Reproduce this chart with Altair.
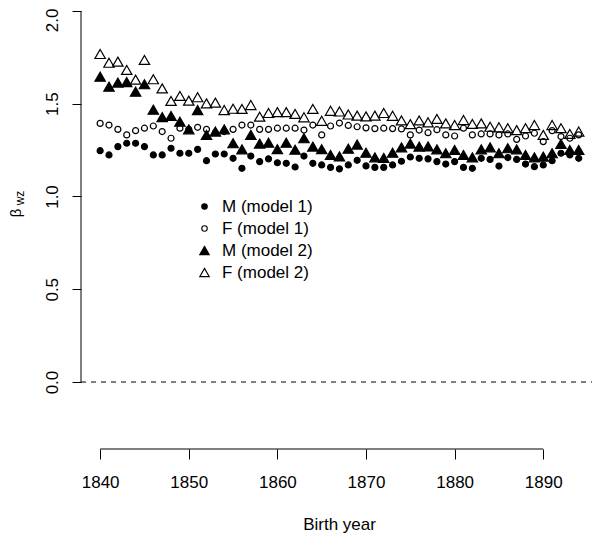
import altair as alt
import pandas as pd

years = list(range(1840, 1895))

m_model1 = [1.247, 1.224, 1.269, 1.287, 1.287, 1.269, 1.224, 1.224, 1.260, 1.233,
            1.233, 1.254, 1.193, 1.229, 1.229, 1.206, 1.152, 1.218, 1.188, 1.203,
            1.182, 1.179, 1.159, 1.218, 1.179, 1.170, 1.157, 1.149, 1.170, 1.195,
            1.165, 1.157, 1.157, 1.170, 1.190, 1.213, 1.206, 1.203, 1.188, 1.175,
            1.188, 1.157, 1.152, 1.206, 1.200, 1.164, 1.210, 1.200, 1.175, 1.161,
            1.170, 1.193, 1.233, 1.224, 1.206]

f_model1 = [1.394, 1.385, 1.362, 1.332, 1.355, 1.368, 1.380, 1.350, 1.314, 1.368,
            1.362, 1.373, 1.362, 1.345, 1.350, 1.362, 1.385, 1.385, 1.362, 1.362,
            1.368, 1.368, 1.368, 1.358, 1.385, 1.332, 1.380, 1.396, 1.383, 1.376,
            1.370, 1.366, 1.368, 1.366, 1.364, 1.332, 1.358, 1.344, 1.360, 1.332,
            1.326, 1.368, 1.332, 1.337, 1.337, 1.332, 1.337, 1.308, 1.326, 1.341,
            1.296, 1.355, 1.323, 1.314, 1.332]

m_model2 = [1.646, 1.592, 1.614, 1.617, 1.565, 1.605, 1.468, 1.428, 1.434, 1.403,
            1.362, 1.466, 1.332, 1.350, 1.362, 1.287, 1.254, 1.332, 1.285, 1.290,
            1.255, 1.290, 1.252, 1.314, 1.269, 1.255, 1.224, 1.216, 1.258, 1.280,
            1.236, 1.211, 1.208, 1.236, 1.265, 1.285, 1.269, 1.270, 1.254, 1.233,
            1.251, 1.224, 1.211, 1.254, 1.265, 1.233, 1.260, 1.254, 1.224, 1.211,
            1.215, 1.233, 1.283, 1.251, 1.251]

f_model2 = [1.768, 1.721, 1.727, 1.682, 1.630, 1.736, 1.632, 1.583, 1.515, 1.542,
            1.517, 1.535, 1.502, 1.506, 1.466, 1.473, 1.472, 1.493, 1.430, 1.450,
            1.455, 1.455, 1.445, 1.427, 1.472, 1.408, 1.462, 1.458, 1.442, 1.436,
            1.432, 1.436, 1.450, 1.435, 1.410, 1.390, 1.410, 1.400, 1.418, 1.394,
            1.385, 1.412, 1.391, 1.394, 1.376, 1.373, 1.368, 1.358, 1.368, 1.385,
            1.332, 1.385, 1.368, 1.337, 1.350]

series_names = ["M (model 1)", "F (model 1)", "M (model 2)", "F (model 2)"]
series_values = [m_model1, f_model1, m_model2, f_model2]

x_ticks = [1840, 1850, 1860, 1870, 1880, 1890]
y_ticks = [0.0, 0.5, 1.0, 1.5, 2.0]

rows = []
for name, vals in zip(series_names, series_values):
    for yr, v in zip(years, vals):
        rows.append({"year": yr, "value": v, "series": name})
df = pd.DataFrame(rows)

W, H = 511, 441
FONT = "Liberation Sans"
xscale = alt.Scale(domain=[1837.84, 1895.5], zero=False, nice=False)
yscale = alt.Scale(domain=[-0.361, 2.016], zero=False, nice=False)

xaxis = alt.Axis(values=x_ticks, format="d", title="Birth year",
                 domain=False, grid=False, tickSize=10, tickColor="black",
                 labelFontSize=17, labelFont=FONT, labelColor="black",
                 labelPadding=15, labelFlush=False, labelOverlap=False,
                 titleFontSize=17, titleFont=FONT, titleColor="black",
                 titleFontWeight="normal", titleX=258, titleY=75,
                 titleBaseline="middle")
yaxis = alt.Axis(values=y_ticks, format=".1f", title=None,
                 domain=False, grid=False, tickSize=9, tickColor="black",
                 labelFontSize=17, labelFont=FONT, labelColor="black",
                 labelAngle=270, labelAlign="center", labelBaseline="middle",
                 labelOffset=alt.condition("datum.value == 2", alt.value(9), alt.value(0)),
                 labelPadding=20, labelFlush=False, labelOverlap=False)

TRI = "M0,-1.5L1.73,1.5L-1.73,1.5Z"
SIZE = 36

legend_cfg = dict(title=None, orient="none", legendX=115, legendY=190,
                  labelFontSize=17, labelFont=FONT, labelColor="black",
                  labelOffset=9, rowPadding=4, padding=0,
                  symbolSize=30, symbolStrokeWidth=1.1)

points = alt.Chart(df).mark_point(strokeWidth=1.2, opacity=1, size=SIZE).encode(
    x=alt.X("year:Q", scale=xscale, axis=xaxis),
    y=alt.Y("value:Q", scale=yscale, axis=yaxis),
    shape=alt.Shape("series:N", scale=alt.Scale(domain=series_names,
                    range=["circle", "circle", TRI, TRI]),
                    legend=alt.Legend(**legend_cfg)),
    fill=alt.Fill("series:N", scale=alt.Scale(domain=series_names,
                  range=["black", "transparent", "black", "transparent"]),
                  legend=alt.Legend(**legend_cfg)),
    stroke=alt.Stroke("series:N", scale=alt.Scale(domain=series_names,
                      range=["black", "black", "black", "black"]),
                      legend=alt.Legend(**legend_cfg)),
)

zero_df = pd.DataFrame({"value": [0.0]})
zero_line = alt.Chart(zero_df).mark_rule(strokeDash=[5, 5], color="black", strokeWidth=1).encode(
    y=alt.Y("value:Q", scale=yscale, axis=yaxis),
    x=alt.value(0), x2=alt.value(W),
)

yaxis_df = pd.DataFrame({"value": [y_ticks[0]], "value2": [y_ticks[-1]]})
yaxis_line = alt.Chart(yaxis_df).mark_rule(color="black", strokeWidth=1).encode(
    y=alt.Y("value:Q", scale=yscale, axis=yaxis), y2="value2:Q", x=alt.value(0),
)

xaxis_df = pd.DataFrame({"year": [x_ticks[0]], "year2": [x_ticks[-1]]})
xaxis_line = alt.Chart(xaxis_df).mark_rule(color="black", strokeWidth=1).encode(
    x=alt.X("year:Q", scale=xscale, axis=xaxis), x2="year2:Q", y=alt.value(H),
)

beta = alt.Chart(pd.DataFrame({"t": ["β"]})).mark_text(
    angle=270, fontSize=15, font=FONT, color="black", align="center", baseline="middle"
).encode(text="t:N", x=alt.value(-65), y=alt.value(205))

sub = alt.Chart(pd.DataFrame({"t": ["wz"]})).mark_text(
    angle=270, fontSize=12, font=FONT, color="black", align="center", baseline="middle"
).encode(text="t:N", x=alt.value(-61.5), y=alt.value(190))

chart = alt.layer(points, zero_line, yaxis_line, xaxis_line, beta, sub).properties(
    width=W, height=H,
    autosize=alt.AutoSizeParams(type="none"),
    padding={"left": 73, "top": 0, "right": 0, "bottom": 84},
    background="white",
).configure_view(stroke=None)

chart.save("out.html", embed_options={"renderer": "svg", "actions": False})
